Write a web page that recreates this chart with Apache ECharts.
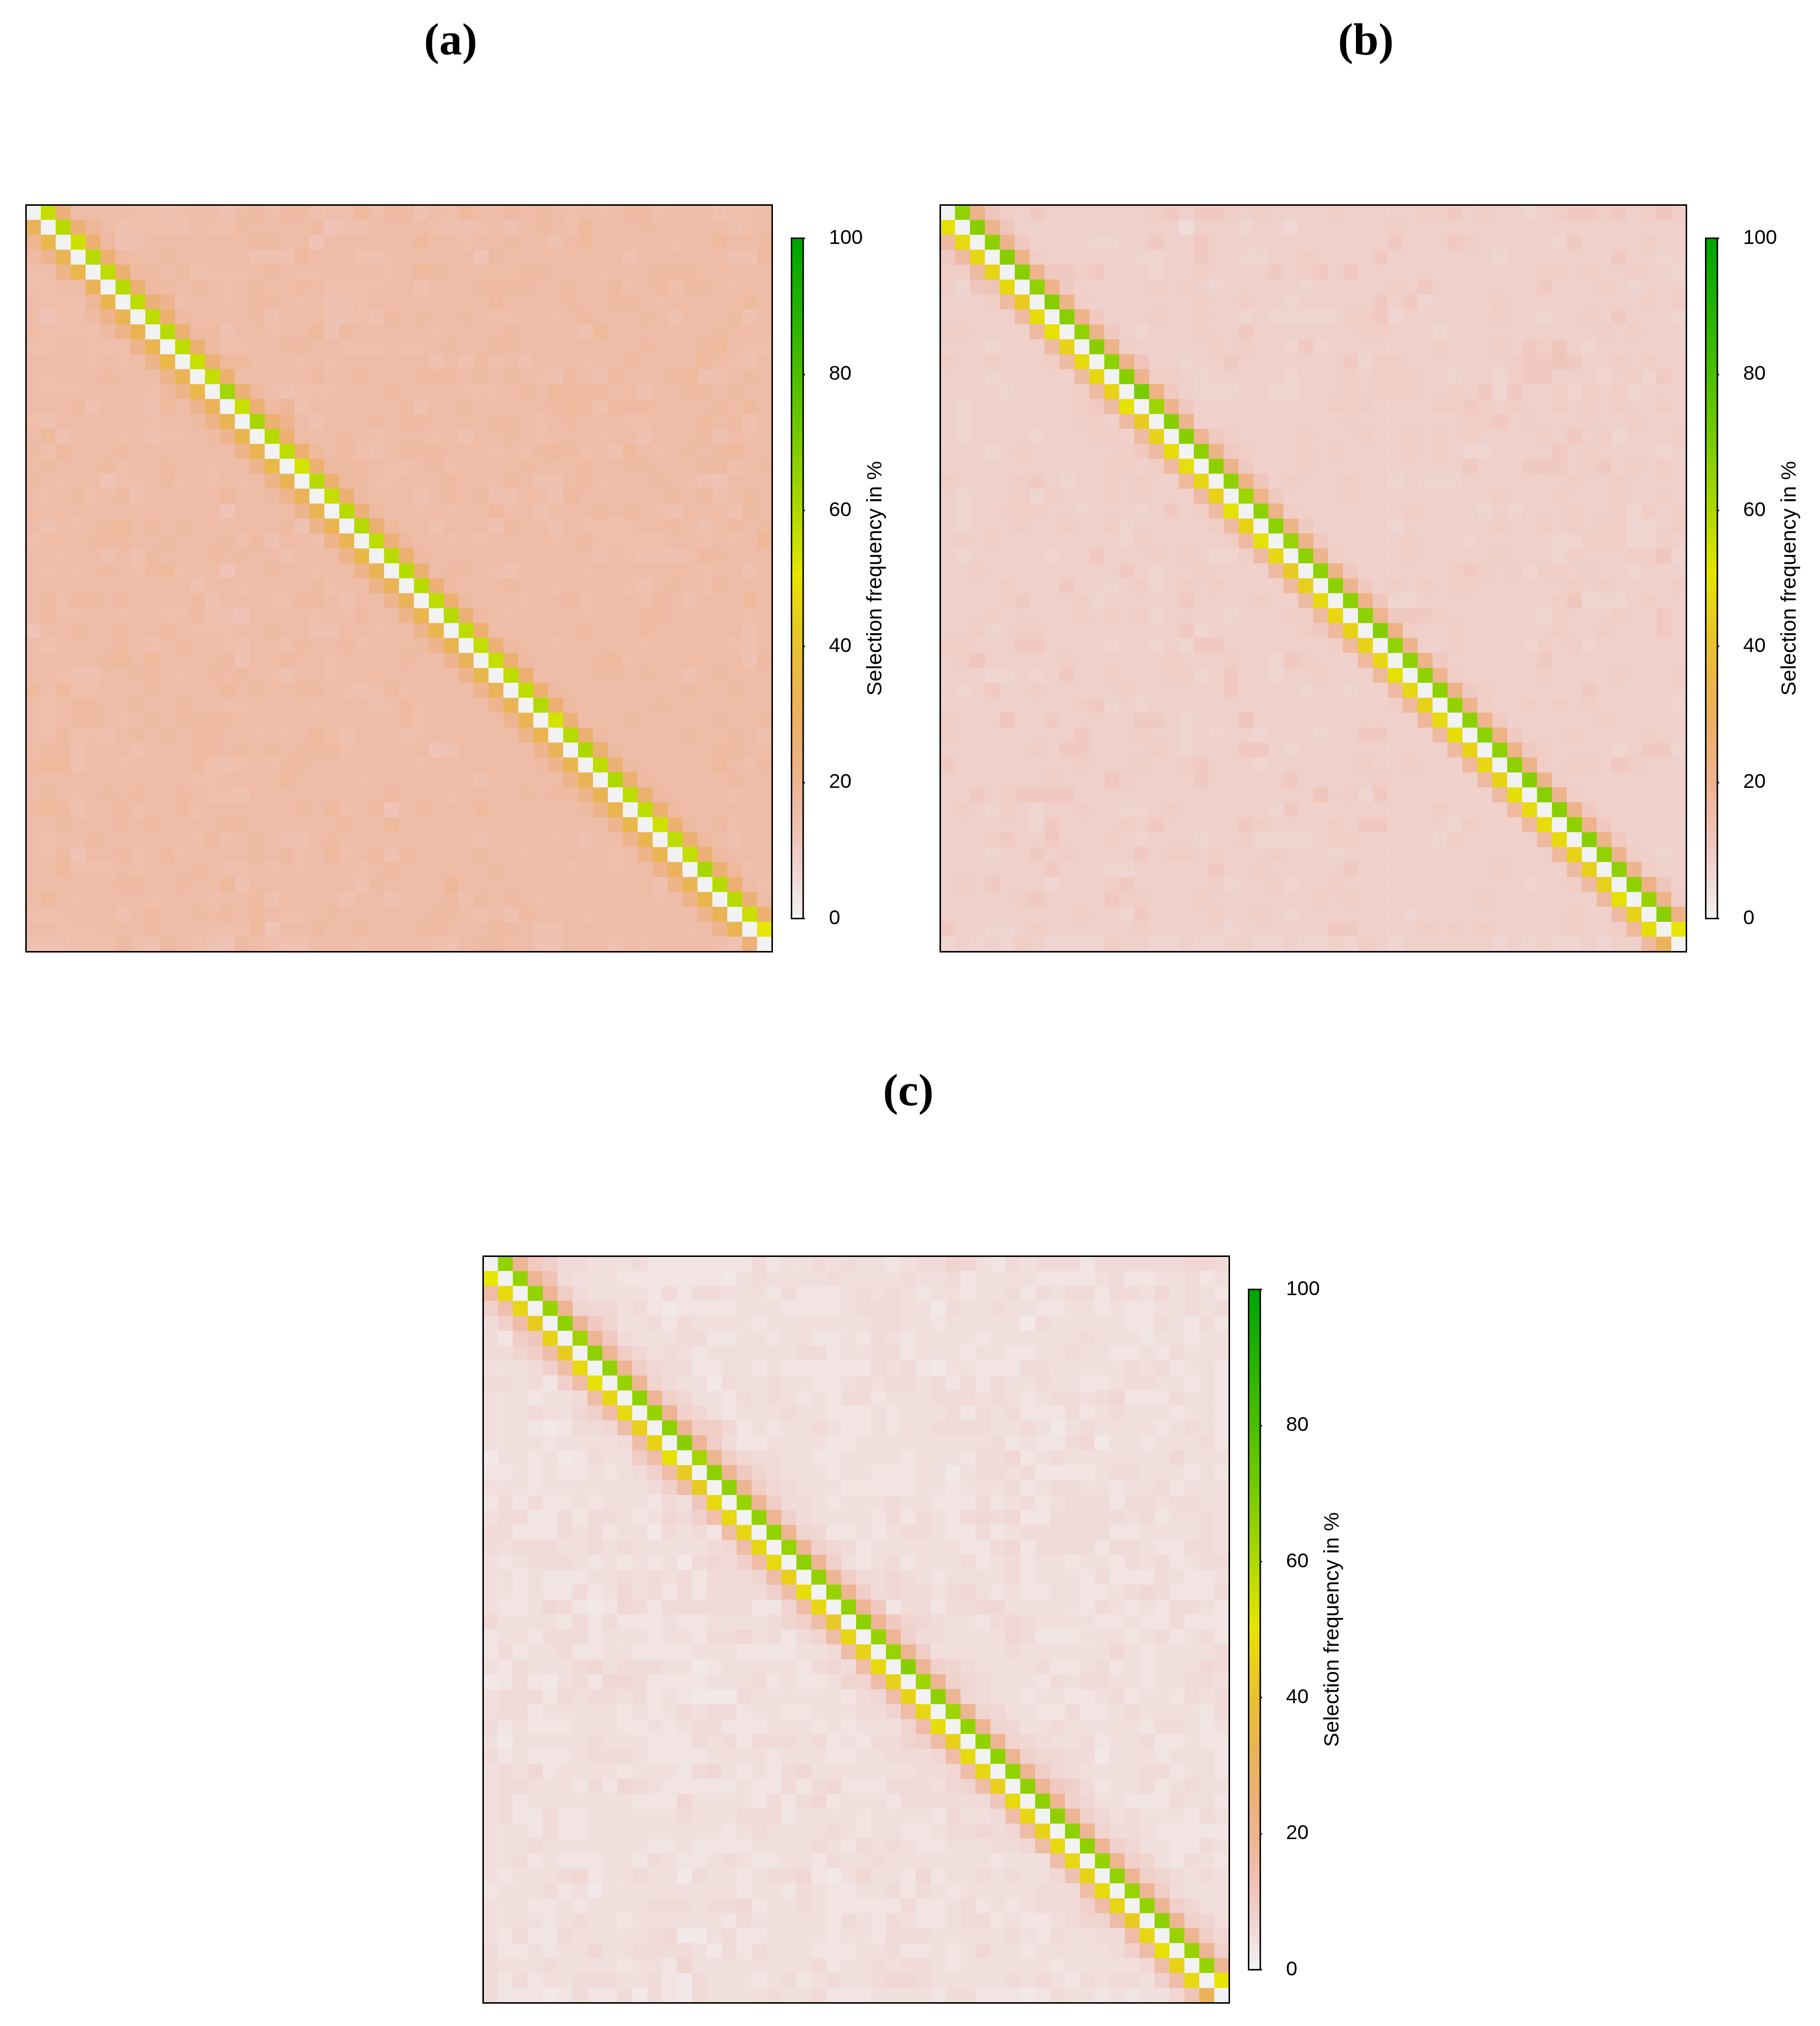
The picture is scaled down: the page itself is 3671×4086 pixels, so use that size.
<!DOCTYPE html>
<html>
<head>
<meta charset="utf-8">
<script src="https://cdn.jsdelivr.net/npm/echarts@6/dist/echarts.min.js"></script>
<style>html,body{margin:0;padding:0;background:#fff}#chart{width:3671px;height:4086px}</style>
</head>
<body>
<div id="chart"></div>
<script>
// Selection frequency (%), one base-36 character per cell, rows from the top.
// '.' marks the diagonal and its two neighbours, whose values are in the Upper/Lower arrays.
const panelARows = [
"..pffffeed effdfgegge eeheggdfeh ffgfgfefef ggefffdeef",
"...pifdeee dfeegffffg cddffffedd efdfgfehff fgfffffdef",
"j...qgddff fffffggffc ffffffhffe ffgffdfhff fffeffhffg",
"gk...qgffg fffffdddhf ffddefffff cgffffffff dffffffddg",
"eel...qggf gdeeefgfee ffffefhgff fffggfffef ffgggfffff",
"eeff...qgg fgfefgffgf eeeeffdfff ghggffgffg efgeggfeff",
"feeei...pk effefggfef ddefffffff fhffffgffg gfefffffhf",
"fceegl...q gffffgdfff ddedgfgffg feeffefgff fgfdfffgdf",
"feeeegl... qggdffeffh dgfffffeff ffgffffdhf ffffffgfff",
"eeffeeel.. .qgeeffggf feeefeefgf fggfffffff fgfffghfee",
"ffffefefl. ..phhfffef effffffdfd gefdfffeff gffffhfedf",
"fefffgfffl ...qfffffg ffgfffgggf gfgfedgfdg fffghddfgf",
"feeeffffeg l...phedee efffgffffe eefgfhgghf fdffggfgff",
"fffgdfffdh fk...qgidf fffffgdffg fffffghgdg ggffffgfhf",
"edffffffef fgl...qkfd fffgfggfff fggfefgfff eefffhfgdf",
"fhdfffefde efgk...qff fgfefffefd ffgfefffef fdfffgdfef",
"gehfffgfff ffffl...qh fgedfgggff fefeghgefd hfefgfghff",
"fgfffgeffg ffeffk...q gggfeefgef fffgfffgff ggfffggefg",
"gfeffceefg efefefl... qggeefffgf fegfddfgef ffgfedcfff",
"fefgefgdff fffhffgk.. .qgfffdfgf gddffdhfff fffgfgdfgf",
"ffffffffff fffcffffk. ..pgffefef fhefdfffgf gfedfffdgf",
"fdfefghfgf gffffffgdl ...qhffdff fdgffdfeee effgfdfgfg",
"efffgggffg fffgegdffe l...phffef effffefgee eeeffefefi",
"ffeffdfdgf ffgfgffdff fl...qgfff ffffffffdf edddeggfff",
"fefefgfegh effcffgffe ffl...qfgg fedffffeff fffffeffdf",
"ffffffffff fdffeffffg effl...pgf ffgffeffff edfgfegfff",
"fgeggfgfff fgdfffeegg fdffk...qg fffeffgeff fegfdfffhf",
"fgeeffeffe egedcffffe fegffl...p gfeffffeff fggfffefef",
"cffgffgffg feeeffgffd dffeffl... qffffffgff fgffffffdf",
"fdffffgfef gffedffegf fgefffgk.. .pgffeffff fefffffedf",
"fffffghfhf fffgdffgff effffgffk. ..qgffffgh efffffffdg",
"ffeddffggf efgfgfedff effffffffk ...qffffgg fgffdfgfff",
"heheefffgf fffhfgffgg fedegeffff k...qgffff ffffgffgff",
"fefggffgff gffeeffffe fffdegefff fk...qgfff ffgfffffff",
"fefggfefgf ggggffffff fffffgefff ffk...pfff gfffffgffg",
"fegeedfgfg fggffefefh fdfffdefff fffl...qgf ffffgffgfd",
"fggdfffdff fggfgfgfgg gefffffcdf ffffk...qg ffffffggff",
"ghhdffefff fgedefeggf ffffffefff ffffgk...p gfffffhfeg",
"ffffffffff feeffffhff ffefffffff dfffffl... qgfffffgff",
"fgfefgfgff gfeedfffff ffffgfffef fffgfggl.. .qgffffeff",
"ghgdffgeff geffffffgf hefgcfgfff hffffffgl. ..qgffffff",
"ffgfffgfgf fffggfffff fgffhfffff fffffffffk ...qgfgeff",
"fdffgfffff fegefgfddf gfffffffff dffffefdff k...qhfdff",
"fegcffgefg effffgfgef hefgdgffff gffefffffe fl...qgfff",
"ffheeefeff fgfeefefef ffefgfffff fgffffeffe ffl...qhef",
"ffffffggff gffhdfffff ffdgffffif ffffffffff ffdl...qfe",
"fhfeffffef ffeffgdfff fdffdfffge gfgfefffff ffefl...pf",
"eeefffdfgf fgfgfhfeef gffffffggf efdgfffeff fffffk...q",
"ffeeefffgf ffeeehcffg ffgfffggff fggfddffff ffffefk...",
"dddeeegedg fedcgfeddf ffeffffedf ggffddfffd feffffed.."
];
const panelAUpper = [56,58,54,58,57,58,57,57,58,57,55,56,62,55,61,58,57,53,58,56,58,59,57,58,58,58,57,58,57,56,56,57,57,59,53,58,60,57,60,57,57,54,57,56,61,58,58,55,50];
const panelALower = [31,34,32,34,31,33,32,33,33,35,32,34,31,32,33,33,34,32,31,32,33,32,35,32,31,31,33,33,33,31,34,31,32,33,33,31,33,32,32,33,34,33,33,30,32,34,32,33,25];

const panelBRows = [
"..lb98a888 88889a8aa9 8988889888 8899a89887 89aa9a89b9",
"...lb88888 8888885888 7886888888 9888888888 8888888888",
"g...la8888 7788a88a88 8888888888 a888a98888 87a8888988",
"ag...l9888 8887788a88 778898888a 8888888788 88888a8878",
"99g...kaa9 a888788988 88a89a8a88 8888888888 9989889887",
"97bc...la8 8888989878 8888788888 98a8888888 a888987888",
"8889g...l9 8888888988 988788888a 8a78888988 8888888989",
"88888g...l a888988988 787777799a 7888888988 78898a8887",
"998888g... la87888988 a888888899 8887888888 8888989888",
"8887888g.. .l98888898 9887a78888 888988898a 9b87888888",
"98898889g. ..lb88788a 8888888a79 988888889a aba8898988",
"888788888g ...k998788 8887888989 998878879a a8887897a8",
"8888788889 g...ma8777 8877888989 998898a7a8 8979897888",
"8788888889 ag...ka888 8888889998 88899a9898 8989898898",
"8788888889 98g...k888 8888888988 8888899a89 8889889888",
"8788887888 998g...ja9 8888988898 8989898888 98a8978889",
"8887898888 889ag...la 9888989888 8989877888 8a89888878",
"8888888888 89989g...l a888988888 88888a888a aa89a89898",
"988889a878 898988h... mb89888988 7877788888 8898898888",
"8788897988 8989888g.. .la8888988 8888888988 8988898898",
"8788999887 88878a89g. ..l9888888 8988887878 8898897989",
"8788898898 897888889g ...la88888 7888888988 9898997789",
"8989888888 8879888889 g...la8888 8988878888 8779997798",
"8788888788 a888989877 9g...k9888 8988888988 87988899b7",
"8898888888 88a8788988 88g...la88 88889a9897 9989887888",
"88889888a8 8789789898 888h...ka8 9898998888 8898988889",
"88889a8889 788888a888 8988g...lb 7788888888 89b7778988",
"8889888889 8989788887 88898g...k aaa9888888 79888988a8",
"8897899888 888888a788 88889ah... m988988888 89889888a8",
"99888aa888 8788787aa8 8888889h.. .k88988887 9897888888",
"89b8888898 8888898889 887a9888h. ..la888888 a888888888",
"88877878a8 898889978a 887889888h ...k988888 9888898889",
"878a889888 889888888a 8888788788 g...la9888 888a888888",
"8888888889 a787888888 8888888888 9h...k9889 8989888887",
"9888b88a88 888aa87888 b888888888 88i...ka88 8888988888",
"988888888a 8889887878 87888788aa 888g...ma8 8898888988",
"88888898aa 8888987888 aa87888888 8888g...la 9888878aa7",
"a888888889 8889889a88 8788888898 89888h...l 98998a9888",
"8888888988 8a98888a88 888a888889 888888g... l988888888",
"88a89aaaa8 8888888888 88888b897a 8888888g.. .k98888888",
"8987987889 8877898888 887a888888 88898888h. ..la888888",
"8888887a88 8898a88888 a9888898aa 888879888h ...ka88888",
"8889a88a88 8987888788 9777789988 8887988888 h...la8888",
"888788a898 888a899898 8898887888 8888888888 8h...k9878",
"8888888a88 87788888a8 8988888a88 8888888988 88g...k988",
"898a888788 89a8888897 8897889888 8888888887 889g...mb8",
"888889a888 8a99888988 8888898988 8888889888 8888h...l9",
"8888888889 887a888898 8987888888 8788888888 88988g...m",
"a887789888 8889888887 888888aa88 8898989888 889889h...",
"7878798777 7988778778 8778778798 7888888787 8778788g.."
];
const panelBUpper = [65,67,66,67,67,65,67,67,65,67,66,67,70,63,67,67,66,66,66,63,66,66,64,66,66,66,66,66,68,65,66,66,66,65,66,66,66,66,67,67,67,66,67,65,66,66,64,67,50];
const panelBLower = [49,47,46,45,46,43,48,49,45,47,46,45,49,43,45,48,48,46,44,49,45,49,46,43,44,47,46,45,45,46,49,46,45,47,48,45,46,45,48,47,48,47,45,44,44,49,45,48,31];

const panelCRows = [
"..ja855444 5333333353 4454544345 5764354555 3555555665",
"...jc54443 3333332454 4445444454 4534444333 3453344534",
"f...j95444 4353554443 5333454543 4434453545 5355464543",
"8e...j7664 5323333444 3333455544 2544544334 4343344545",
"58f...ja74 4535444434 4444445544 3444442544 4443354353",
"539b...ja5 4445533443 4433435434 4443444444 5444344344",
"5579f...j9 6454344444 4553445534 4434433445 4433435444",
"44458f...j 9655334434 3333335453 2443335544 4445453443",
"554538f... j754425445 4433454554 5353544544 3345544343",
"4443445f.. .j86443545 4343553444 5554543455 4563335443",
"44454468f. ..j8643444 5443334344 4535453335 3454443443",
"444323556f ...j996343 4454334344 5555445424 5444434543",
"4444344445 f...j95334 4443344444 4444534335 6244344453",
"2443423544 9f...j9655 4433444434 4435563454 4444446444",
"3343433434 58f...ja75 4443443334 4245545333 3455444343",
"4443444444 458f...j96 5444333334 4344453455 4434453444",
"3535334344 4354b...j9 5543444544 3335345345 5535545544",
"4553353554 34658e...j 8544443535 4356563355 5554534454",
"5533354534 425453f... j763343455 4335345555 5533444454",
"5455544545 4444456f.. .j86534444 4433563555 5355433554",
"4345554343 43425658f. ..j8434534 4453453443 4435453455",
"4434333445 454535557f ...j955654 3444453444 3533354334",
"4434335346 4535355558 f...j95655 4564343344 3345653335",
"4334653236 5355555533 7f...ja355 3556644444 3543435543",
"6444435353 3343344445 78f...ja76 5443565444 4334335333",
"3443555344 4344355645 357f...j85 5444465333 4443453453",
"3534453344 3333444333 3445f...j9 4444454444 4464344445",
"4354445645 5544234444 43565f...j 8754444533 4534344465",
"2353245366 5333344453 433477f... j865444354 5544344554",
"4555354554 5343222544 4444356f.. .j65443443 3453443545",
"4553444443 4345455344 33444557f. ..j7644335 3345444435",
"5343334443 3434553334 443434447f ...j764454 4444355434",
"4244444544 4333545355 5453435578 f...j76544 5344533433",
"5343334555 4333344443 4443344555 6f...j8665 5244434443",
"4546344443 4443564343 5644444445 56f...j965 4444553443",
"4554443536 5433333433 5356333555 467f...ja8 5344534544",
"4534444444 3336444435 3563444355 5555b...j8 6443335443",
"4533533444 4445444555 3444434444 36445f...j 8645444354",
"4443533444 4444443454 4445434433 455656f... j755433333",
"4445444444 4334333344 4454354543 3444556f.. .j86443354",
"4453433344 3543345433 4435445444 44443444f. ..j8743543",
"4344456344 5442544345 5632464436 344545446d ...j875454",
"3444534244 4444444344 3543344535 4344444555 f...j95444",
"4443343444 4555455634 4543333353 3453434555 8f...j8644",
"4444345443 4444443544 4443543543 3455343345 77f...j874",
"4353354444 4562245334 4443443555 4444454354 455f...j96",
"5334344644 5555425354 4433344533 4346443444 4458f...j8",
"5444544443 4437444444 4453445455 4344444434 44446f...j",
"5353445554 4532544434 5345445665 4444454543 545548f...",
"5333235335 2532544445 4453334444 3553332354 4343446c.."
];
const panelCUpper = [65,65,65,64,66,63,66,65,64,66,64,66,67,62,66,66,64,65,65,64,66,65,64,65,66,64,64,67,63,66,63,65,65,66,65,66,66,66,66,66,64,65,64,65,66,64,64,64,50];
const panelCLower = [50,47,46,43,45,43,47,49,46,47,44,45,49,43,43,47,47,46,46,47,44,48,46,42,46,45,47,45,45,46,48,44,47,46,44,47,46,45,47,46,45,47,46,43,46,49,45,47,31];

const cellLabels = Array.from({length: 50}, (_, i) => String(i + 1));
const legendTitle = "Selection frequency in %";
const panelTitles = ["(a)", "(b)", "(c)"];

// R's terrain.colors(100), reversed: 100 one-percent colour levels.
function hsv(h, s, v) {
  const i = Math.floor(h * 6), f = h * 6 - i;
  const p = v * (1 - s), q = v * (1 - s * f), t = v * (1 - s * (1 - f));
  const c = [[v,t,p],[q,v,p],[p,v,t],[p,q,v],[t,p,v],[v,p,q]][i % 6];
  return "rgb(" + c.map(x => Math.round(x * 255)).join(",") + ")";
}
const palette = [];
for (let lvl = 0; lvl < 100; lvl++) {
  if (lvl < 50) {
    const g = lvl / 50;                  // 0 = pale grey, 1 = yellow
    palette.push(hsv(g / 6, g, 0.95 - 0.05 * g));
  } else {
    const t = (99 - lvl) / 49;           // 0 = green, 1 = yellow
    palette.push(hsv(1 / 3 - t / 6, 1, 0.65 + 0.25 * t));
  }
}

function buildCells(rows, upper, lower) {
  const cells = [];
  rows.forEach((raw, r) => {
    const row = raw.replace(/ /g, "");
    for (let c = 0; c < 50; c++) {
      let v;
      if (c === r) v = 0;
      else if (c === r + 1) v = upper[r];
      else if (c === r - 1) v = lower[r - 1];
      else v = parseInt(row[c], 36);
      cells.push([c, r, v]);
    }
  });
  return cells;
}

const layouts = [
  {x: 52.5,  y: 413.5,  tx: 909,  ty: 40.6},
  {x: 1896.5, y: 413.5, tx: 2755, ty: 40.6},
  {x: 974.5, y: 2533.5, tx: 1832, ty: 2159}
];
const panels = [
  buildCells(panelARows, panelAUpper, panelALower),
  buildCells(panelBRows, panelBUpper, panelBLower),
  buildCells(panelCRows, panelCUpper, panelCLower)
];
const levelRows = palette.map((_, i) => [0, i, 1, i + 1]);

const grid = [], xAxis = [], yAxis = [], series = [], title = [];
const hidden = {show: false};
layouts.forEach((p, k) => {
  const g1 = grid.length;
  grid.push({left: p.x, top: p.y, width: 1505, height: 1506, show: true, z: 5,
    backgroundColor: "transparent", borderColor: "#000", borderWidth: 3});
  xAxis.push({type: "category", gridIndex: g1, data: cellLabels, axisLine: hidden, axisTick: hidden, axisLabel: hidden, splitLine: hidden, splitArea: hidden});
  yAxis.push({type: "category", gridIndex: g1, data: cellLabels, inverse: true, axisLine: hidden, axisTick: hidden, axisLabel: hidden, splitLine: hidden, splitArea: hidden});
  series.push({type: "heatmap", xAxisIndex: g1, yAxisIndex: g1, data: panels[k], progressive: 0, animation: false, silent: true, emphasis: {disabled: true}, itemStyle: {borderWidth: 0}});

  const g2 = grid.length;
  grid.push({left: p.x + 1544, top: p.y + 67, width: 23.5, height: 1372, show: true, z: 5,
    backgroundColor: "transparent", borderColor: "#000", borderWidth: 3});
  xAxis.push({type: "value", gridIndex: g2, min: 0, max: 1, show: false});
  yAxis.push({type: "value", gridIndex: g2, min: 0, max: 100, interval: 20, position: "right",
    axisLine: hidden, splitLine: hidden,
    axisTick: {show: true, length: 27, lineStyle: {color: "#000", width: 3}},
    axisLabel: {show: true, margin: 52, color: "#000", fontFamily: "Liberation Sans", fontSize: 41, padding: [9, 0, 0, 0]},
    name: legendTitle, nameLocation: "middle", nameRotate: 90, nameGap: 113,
    nameTextStyle: {color: "#000", fontFamily: "Liberation Sans", fontSize: 43}});
  series.push({type: "custom", xAxisIndex: g2, yAxisIndex: g2, data: levelRows, silent: true, animation: false,
    encode: {x: [0, 2], y: [1, 3]},
    renderItem: (params, api) => {
      const a = api.coord([api.value(0), api.value(1)]);
      const b = api.coord([api.value(2), api.value(3)]);
      return {type: "rect", shape: {x: a[0], y: b[1], width: b[0] - a[0], height: a[1] - b[1] + 0.6},
        style: {fill: palette[api.value(1)]}};
    }});

  title.push({text: panelTitles[k], left: p.tx, top: p.ty, padding: 0, textAlign: "center",
    textStyle: {fontFamily: "Liberation Serif", fontWeight: "bold", fontSize: 92, color: "#000"}});
});

const chart = echarts.init(document.getElementById("chart"), null, {renderer: "canvas", width: 3671, height: 4086});
chart.setOption({
  animation: false,
  backgroundColor: "#fff",
  title, grid, xAxis, yAxis, series,
  visualMap: {
    show: false, type: "piecewise", dimension: 2,
    seriesIndex: [0, 2, 4],
    pieces: palette.map((color, i) => ({gte: i, lt: i + 1, color}))
  }
});
</script>
</body>
</html>
